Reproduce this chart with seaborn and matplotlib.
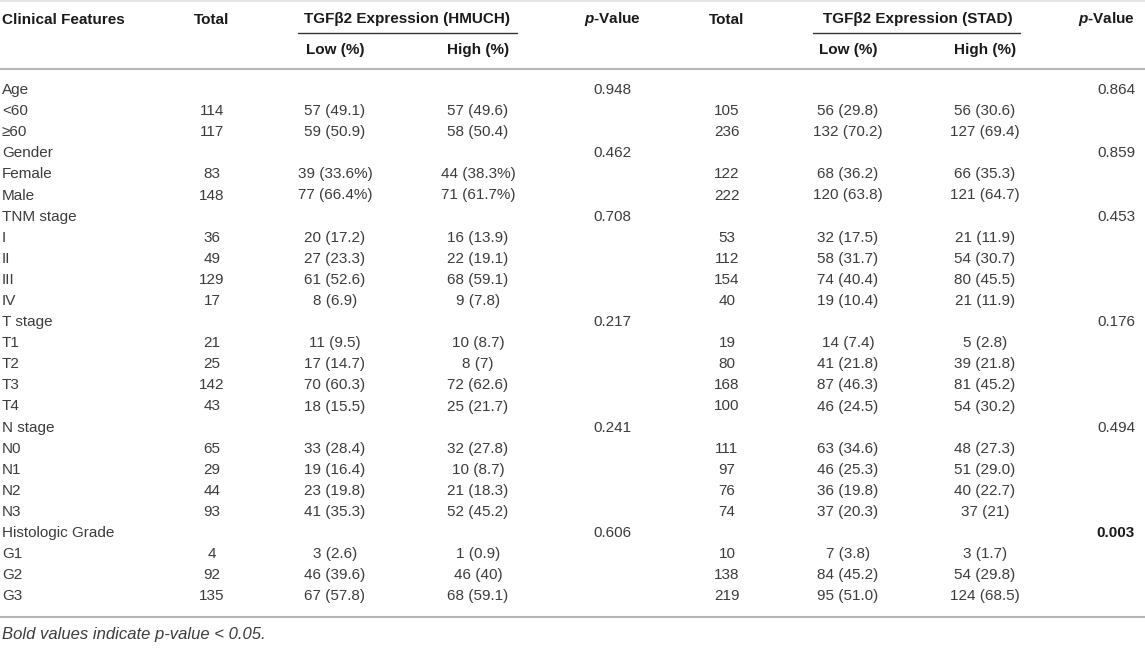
import numpy as np
import matplotlib
matplotlib.use("Agg")
import matplotlib.pyplot as plt
import seaborn as sns

# ============================================
# TABLE DATA
# ============================================

features = [
    "Age", "<60", "≥60",
    "Gender", "Female", "Male",
    "TNM stage", "I", "II", "III", "IV",
    "T stage", "T1", "T2", "T3", "T4",
    "N stage", "N0", "N1", "N2", "N3",
    "Histologic Grade", "G1", "G2", "G3",
]

total_hmuch = ["", "114", "117", "", "83", "148", "", "36", "49", "129", "17",
               "", "21", "25", "142", "43", "", "65", "29", "44", "93",
               "", "4", "92", "135"]
low_hmuch = ["", "57 (49.1)", "59 (50.9)", "", "39 (33.6%)", "77 (66.4%)",
             "", "20 (17.2)", "27 (23.3)", "61 (52.6)", "8 (6.9)",
             "", "11 (9.5)", "17 (14.7)", "70 (60.3)", "18 (15.5)",
             "", "33 (28.4)", "19 (16.4)", "23 (19.8)", "41 (35.3)",
             "", "3 (2.6)", "46 (39.6)", "67 (57.8)"]
high_hmuch = ["", "57 (49.6)", "58 (50.4)", "", "44 (38.3%)", "71 (61.7%)",
              "", "16 (13.9)", "22 (19.1)", "68 (59.1)", "9 (7.8)",
              "", "10 (8.7)", "8 (7)", "72 (62.6)", "25 (21.7)",
              "", "32 (27.8)", "10 (8.7)", "21 (18.3)", "52 (45.2)",
              "", "1 (0.9)", "46 (40)", "68 (59.1)"]
p_hmuch = ["0.948", "", "", "0.462", "", "", "0.708", "", "", "", "",
           "0.217", "", "", "", "", "0.241", "", "", "", "",
           "0.606", "", "", ""]

total_stad = ["", "105", "236", "", "122", "222", "", "53", "112", "154", "40",
              "", "19", "80", "168", "100", "", "111", "97", "76", "74",
              "", "10", "138", "219"]
low_stad = ["", "56 (29.8)", "132 (70.2)", "", "68 (36.2)", "120 (63.8)",
            "", "32 (17.5)", "58 (31.7)", "74 (40.4)", "19 (10.4)",
            "", "14 (7.4)", "41 (21.8)", "87 (46.3)", "46 (24.5)",
            "", "63 (34.6)", "46 (25.3)", "36 (19.8)", "37 (20.3)",
            "", "7 (3.8)", "84 (45.2)", "95 (51.0)"]
high_stad = ["", "56 (30.6)", "127 (69.4)", "", "66 (35.3)", "121 (64.7)",
             "", "21 (11.9)", "54 (30.7)", "80 (45.5)", "21 (11.9)",
             "", "5 (2.8)", "39 (21.8)", "81 (45.2)", "54 (30.2)",
             "", "48 (27.3)", "51 (29.0)", "40 (22.7)", "37 (21)",
             "", "3 (1.7)", "54 (29.8)", "124 (68.5)"]
p_stad = ["0.864", "", "", "0.859", "", "", "0.453", "", "", "", "",
          "0.176", "", "", "", "", "0.494", "", "", "", "",
          "0.003", "", "", ""]

# ============================================
# STYLE
# ============================================

sns.set_theme(style="white")
plt.rcParams["font.family"] = ["Liberation Sans", "DejaVu Sans"]
plt.rcParams["mathtext.fontset"] = "custom"
plt.rcParams["mathtext.it"] = "Liberation Sans:italic:bold"
plt.rcParams["mathtext.rm"] = "Liberation Sans:bold"

FS = 11
body_color = "#3c3c3c"
head_color = "#1a1a1a"
rule_color = "#b5b5b5"

fig = plt.figure(figsize=(11.45, 6.48), dpi=100)
ax = fig.add_axes([0, 0, 1, 1])
ax.set_xlim(0, 1145)
ax.set_ylim(648, 0)
ax.axis("off")

# ============================================
# HEADER
# ============================================

y_head = 19.5
y_sub = 50

def head(x, y, s, ha="center"):
    ax.text(x, y, s, ha=ha, va="center", fontsize=FS,
            fontweight="bold", color=head_color)

head(2, y_head, "Clinical Features", ha="left")
head(212, y_head, "Total")
head(407, y_head, "TGFβ2 Expression (HMUCH)")
head(612, y_head, "$p$-Value")
head(727, y_head, "Total")
head(918, y_head, "TGFβ2 Expression (STAD)")
head(1135, y_head, "$p$-Value", ha="right")

head(335, y_sub, "Low (%)")
head(478, y_sub, "High (%)")
head(848, y_sub, "Low (%)")
head(985, y_sub, "High (%)")

# underline of the expression groups
ax.plot([298, 517], [33, 33], color="#333333", lw=1.0)
ax.plot([813, 1020], [33, 33], color="#333333", lw=1.0)

# rules
ax.axhline(1.0, color="#e0e0e0", lw=1.2)
ax.axhline(69, color=rule_color, lw=1.5)
ax.axhline(617, color=rule_color, lw=1.5)

# ============================================
# BODY
# ============================================

y0 = 90
step = 21.1

def cell(x, y, s, ha="center", bold=False):
    if s:
        ax.text(x, y, s, ha=ha, va="center", fontsize=FS,
                fontweight="bold" if bold else "normal",
                color=head_color if bold else body_color)

for i, name in enumerate(features):
    y = y0 + i * step
    cell(2, y, name, ha="left")
    cell(212, y, total_hmuch[i])
    cell(335, y, low_hmuch[i])
    cell(478, y, high_hmuch[i])
    cell(612, y, p_hmuch[i])
    cell(727, y, total_stad[i])
    cell(848, y, low_stad[i])
    cell(985, y, high_stad[i])
    if p_stad[i]:
        cell(1135, y, p_stad[i], ha="right", bold=float(p_stad[i]) < 0.05)

ax.text(2, 635, "Bold values indicate p-value < 0.05.", ha="left",
        va="center", fontsize=FS + 1, style="italic", color=body_color)

fig.savefig("out.png", dpi=100)
